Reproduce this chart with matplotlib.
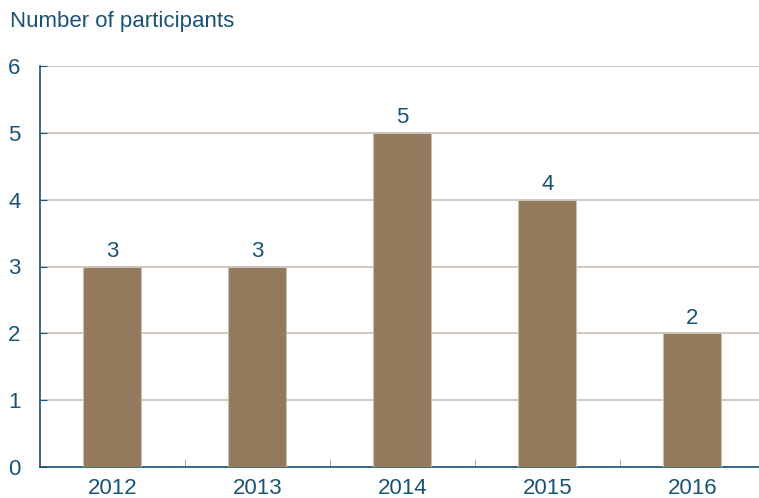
import numpy as np
import matplotlib
matplotlib.use("Agg")
import matplotlib.pyplot as plt

years = ["2012", "2013", "2014", "2015", "2016"]
participants = [3, 3, 5, 4, 2]

text_col = "#1a5276"
bar_col = "#937a5c"

plt.rcParams['font.family'] = ['Liberation Sans', 'DejaVu Sans']

fig = plt.figure(figsize=(7.59, 4.98), dpi=100)
ax = fig.add_axes([40 / 759, 31 / 498, 1 - 40 / 759, 401 / 498])

x = np.arange(len(years))
bars = ax.bar(x, participants, width=0.4, color=bar_col, edgecolor="#c9bfb3", linewidth=0.8, zorder=3)
for xi, v in zip(x, participants):
    ax.text(xi, v + 0.07, str(v), ha="center", va="bottom", fontsize=16, color=text_col)

ax.set_ylim(0, 6)
ax.set_xlim(-0.5, 4.46)
ax.set_yticks(range(7))
ax.set_xticks(x)
ax.set_xticklabels(years)
ax.set_xticks(np.arange(0.5, 4.5, 1), minor=True)
ax.grid(axis="y", color="#c8bfb6", linewidth=1.2, zorder=0)

for s in ["top", "right"]:
    ax.spines[s].set_visible(False)
for s in ["left", "bottom"]:
    ax.spines[s].set_color(text_col)
    ax.spines[s].set_linewidth(1.2)

ax.tick_params(axis="y", direction="in", length=5, color=text_col, labelsize=16, labelcolor=text_col, pad=14)
ax.tick_params(axis="x", which="major", length=0, labelsize=16, labelcolor=text_col, pad=8)
ax.tick_params(axis="x", which="minor", direction="in", length=6, color="#7f9fb5")

fig.text(10 / 759, 1 - 22 / 498, "Number of participants", fontsize=16, color=text_col, va="center", ha="left")

fig.savefig("out.png", dpi=100)
